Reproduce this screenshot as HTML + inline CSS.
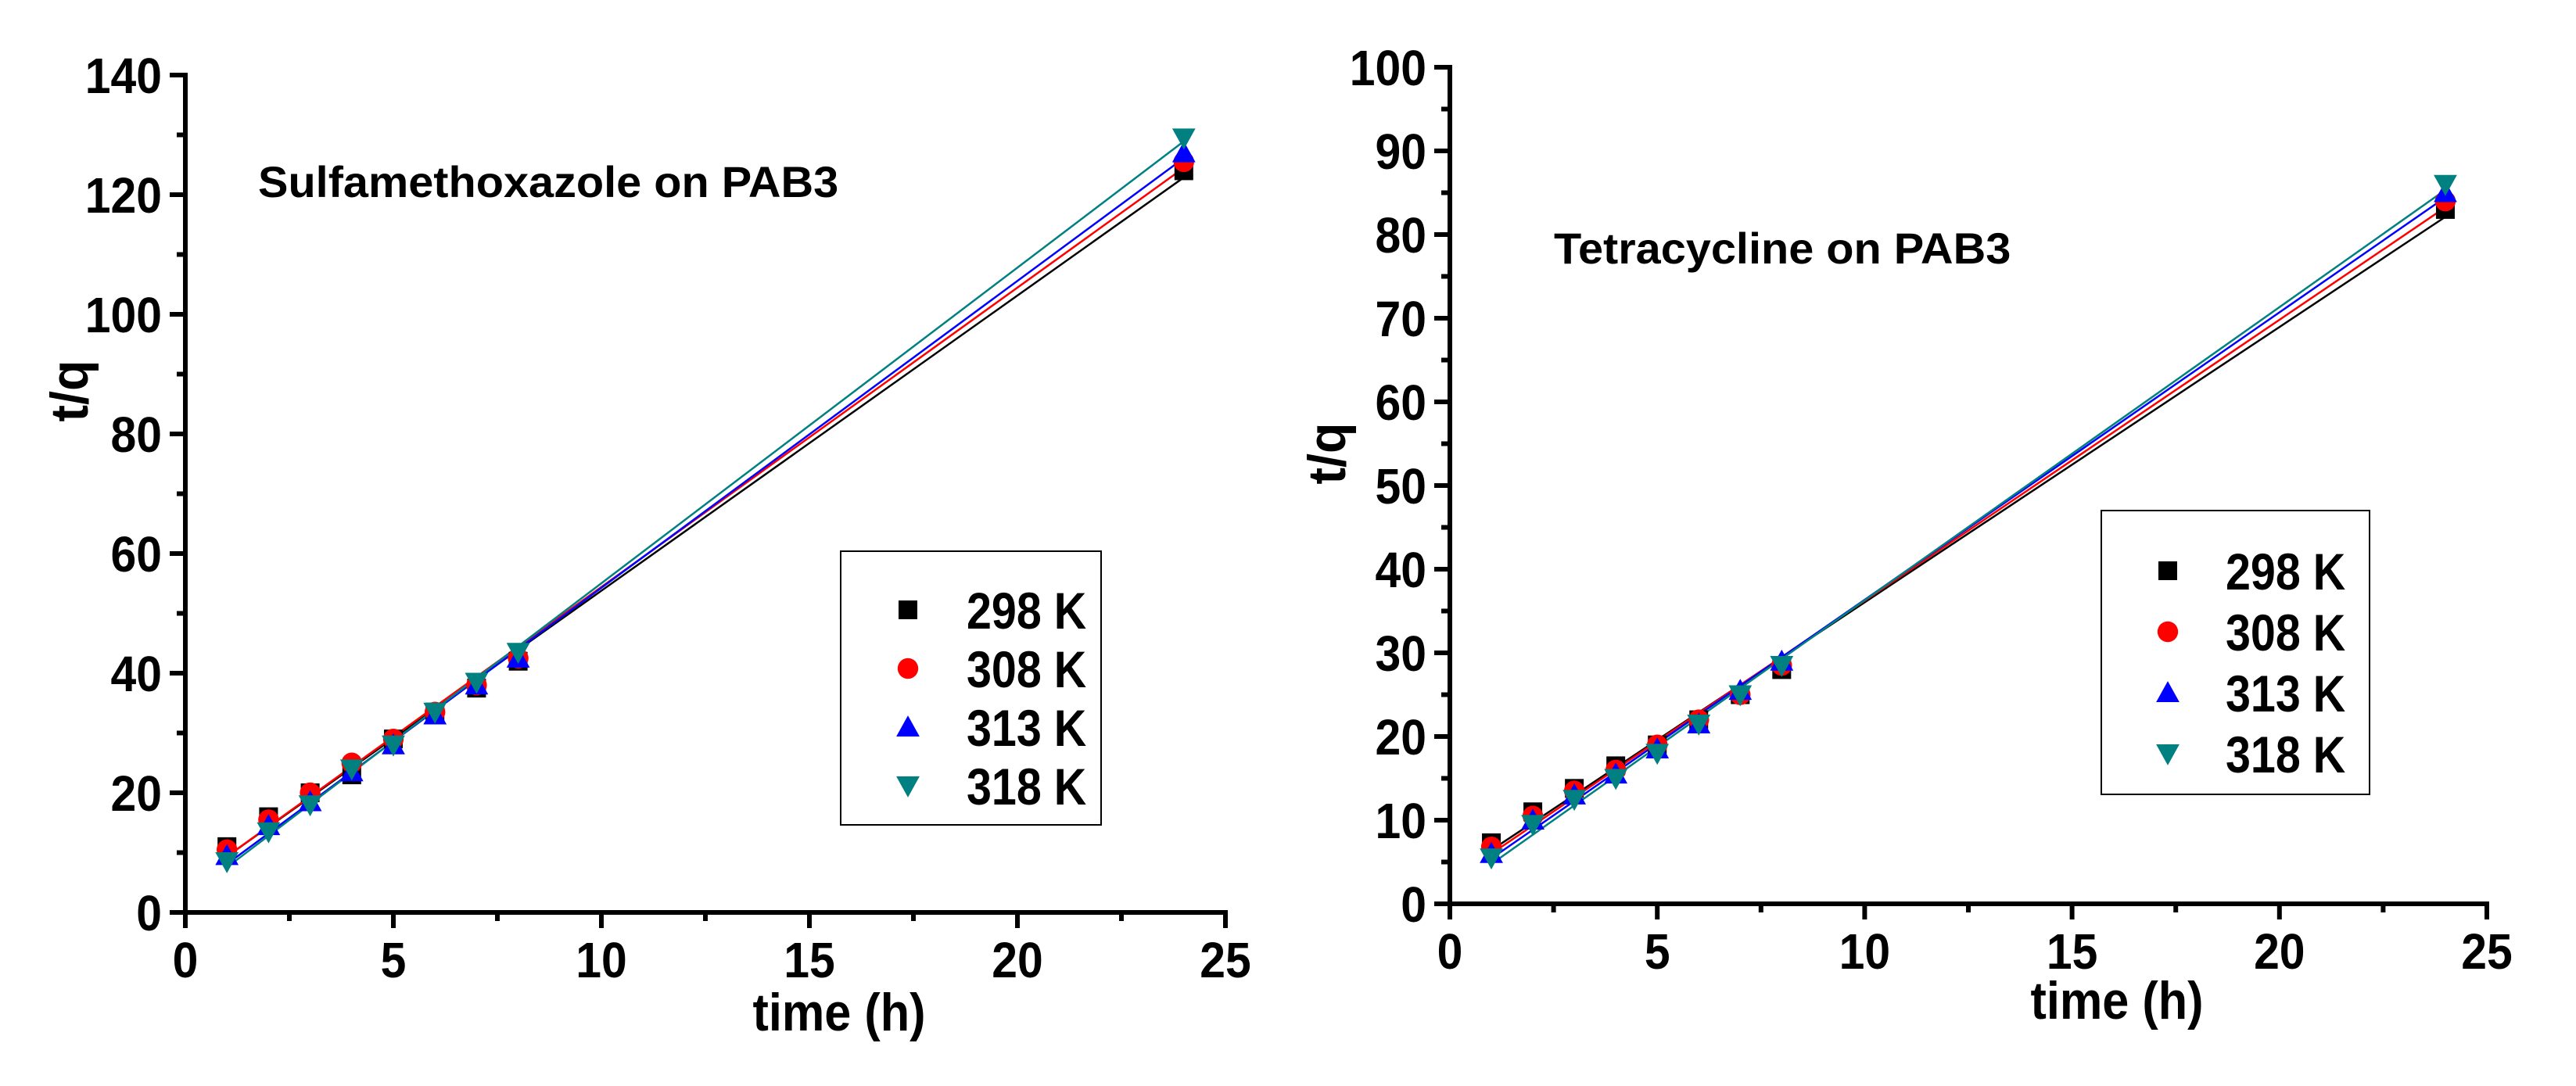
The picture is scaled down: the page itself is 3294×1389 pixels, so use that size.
<!DOCTYPE html>
<html><head><meta charset="utf-8"><style>
html,body{margin:0;padding:0;background:#fff;}
svg{display:block;}
text{font-family:"Liberation Sans",sans-serif;font-weight:bold;fill:#000;}
</style></head><body>
<svg id="svg" width="3294" height="1389" viewBox="0 0 3294 1389" xmlns="http://www.w3.org/2000/svg"></svg>
<script>
const times = [1,2,3,4,5,6,7,8,24];
const seriesNames = ["298 K","308 K","313 K","318 K"];
const leftVals298 = [11,16,20,23,29,33.5,37.5,42,124];
const leftVals308 = [10.5,15.5,20,25,29,33.5,38,42.5,125.5];
const leftVals313 = [9.5,14.5,18.5,23.5,28,33,38,42.5,127];
const leftVals318 = [8.5,13.5,18,24,28,33.5,38.5,43.5,129.5];
const rightVals298 = [7.3,11,13.8,16.5,19,22,25,28,83];
const rightVals308 = [6.8,10.5,13.5,16,19,22,25,28.5,84];
const rightVals313 = [6,10,13,15.5,18.5,21.5,25.5,29,85];
const rightVals318 = [5.5,9.5,12.5,15,18,21.5,25,28.5,86];
const xTicks = [0,5,10,15,20,25];
const leftYTicks = [0,20,40,60,80,100,120,140];
const rightYTicks = [0,10,20,30,40,50,60,70,80,90,100];

const colors = ["#000000","#ff0000","#0000ff","#008080"];
const shapes = ["square","circle","up","down"];
const NS = "http://www.w3.org/2000/svg";
const svg = document.getElementById('svg');
function el(tag, attrs, parent){const e=document.createElementNS(NS,tag);for(const k in attrs)e.setAttribute(k,attrs[k]);(parent||svg).appendChild(e);return e;}
function ntext(parent, x, y, size, anchor, str, sx, rot){
  const t=el('text',{x:0,y:0,'font-size':size,'text-anchor':anchor,transform:`translate(${x},${y})${rot?' rotate('+rot+')':''} scale(${sx},1)`},parent);
  t.textContent=str; return t;
}

function marker(g, shape, cx, cy, color, s){
  let e;
  if(shape==="square") e=el('rect',{x:cx-s/2,y:cy-s/2,width:s,height:s,fill:color},g);
  else if(shape==="circle") e=el('circle',{cx:cx,cy:cy,r:s*0.55,fill:color},g);
  else if(shape==="up") e=el('polygon',{points:`${cx-s*0.62},${cy+s*0.5} ${cx+s*0.62},${cy+s*0.5} ${cx},${cy-s*0.62}`,fill:color},g);
  else e=el('polygon',{points:`${cx-s*0.62},${cy-s*0.5} ${cx+s*0.62},${cy-s*0.5} ${cx},${cy+s*0.62}`,fill:color},g);
  return e;
}

function fit(xs, ys){
  const n=xs.length; let sx=0,sy=0,sxx=0,sxy=0;
  for(let i=0;i<n;i++){sx+=xs[i];sy+=ys[i];sxx+=xs[i]*xs[i];sxy+=xs[i]*ys[i];}
  const b=(n*sxy-sx*sy)/(n*sxx-sx*sx); return [ (sy-b*sx)/n, b ];
}

function drawChart(cfg){
  const g=el('g',{});
  
  
  const X=v=>cfg.x0+(v-0)/25*(cfg.x1-cfg.x0);
  const Y=v=>cfg.y0-(v/cfg.ymax)*(cfg.y0-cfg.y1);
  const ax=el('g',{},g);
  
  
  el('line',{x1:cfg.x0,y1:cfg.y0,x2:cfg.x1+3,y2:cfg.y0,stroke:'#000','stroke-width':6},ax);
  el('line',{x1:cfg.x0,y1:cfg.y0+3,x2:cfg.x0,y2:cfg.y1-3,stroke:'#000','stroke-width':6},ax);
  for(let v=0; v<=25; v+=2.5){
    const major = v%5===0;
    el('line',{x1:X(v),y1:cfg.y0,x2:X(v),y2:cfg.y0+(major?20:11),stroke:'#000','stroke-width':6},ax);
  }
  xTicks.forEach(v=>{
    const t=ntext(ax,X(v),cfg.y0+83,64,'middle',String(v),0.92);
    
    
  });
  const step=cfg.yTicks[1]-cfg.yTicks[0];
  for(let v=0; v<=cfg.ymax+1e-9; v+=step/2){
    const major = Math.abs(v/step-Math.round(v/step))<1e-6;
    el('line',{x1:cfg.x0,y1:Y(v),x2:cfg.x0-(major?20:11),y2:Y(v),stroke:'#000','stroke-width':6},ax);
  }
  cfg.yTicks.forEach(v=>{
    const t=ntext(ax,cfg.x0-30,Y(v)+23,64,'end',String(v),0.92);
    
    
  });
  const xt=ntext(g,cfg.xtX,cfg.xtY,68,'middle','time (h)',0.9);
  
  
  const yt=ntext(g,cfg.ytX,cfg.ytY,68,'middle','t/q',0.95,-90);
  
  
  const ti=ntext(g,cfg.titleX,cfg.titleY,56,'start',cfg.title,1.03);
  
  
  cfg.series.forEach((ys,i)=>{
    const [a,b]=fit(times,ys);
    const l=el('line',{x1:X(times[0]),y1:Y(a+b*times[0]),x2:X(times[times.length-1]),y2:Y(a+b*times[times.length-1]),stroke:colors[i],'stroke-width':2.5},g);
    
    
  });
  cfg.series.forEach((ys,i)=>{
    const sg=el('g',{},g);
    
    
    ys.forEach((v,j)=>{
      const m=marker(sg,shapes[i],X(times[j]),Y(v),colors[i],24);
      
      
    });
  });
  const lg=el('g',{},g);
  
  
  el('rect',{x:cfg.lgX,y:cfg.lgY,width:cfg.lgW,height:cfg.lgH,fill:'#fff',stroke:'#000','stroke-width':2},lg);
  seriesNames.forEach((n,i)=>{
    const e=el('g',{},lg);
    
    
    const cy=cfg.lgRow0+i*cfg.lgRowH;
    marker(e,shapes[i],cfg.lgMX,cy,colors[i],24);
    ntext(e,cfg.lgTX,cy+24,66,'start',n,0.87);
  });
}

drawChart({name:'left-chart',x0:237,x1:1567,y0:1167,y1:96,ymax:140,yTicks:leftYTicks,
  series:[leftVals298,leftVals308,leftVals313,leftVals318],
  xtX:1073,xtY:1318,ytX:112,ytY:500,title:'Sulfamethoxazole on PAB3',titleX:330,titleY:252,
  lgX:1075,lgY:705,lgW:333,lgH:350,lgMX:1161,lgTX:1236,lgRow0:780,lgRowH:75});
drawChart({name:'right-chart',x0:1854,x1:3180,y0:1156,y1:86,ymax:100,yTicks:rightYTicks,
  series:[rightVals298,rightVals308,rightVals313,rightVals318],
  xtX:2707,xtY:1303,ytX:1720,ytY:580,title:'Tetracycline on PAB3',titleX:1987,titleY:337,
  lgX:2687,lgY:653,lgW:343,lgH:363,lgMX:2772,lgTX:2846,lgRow0:730,lgRowH:78});
</script>
</body></html>
